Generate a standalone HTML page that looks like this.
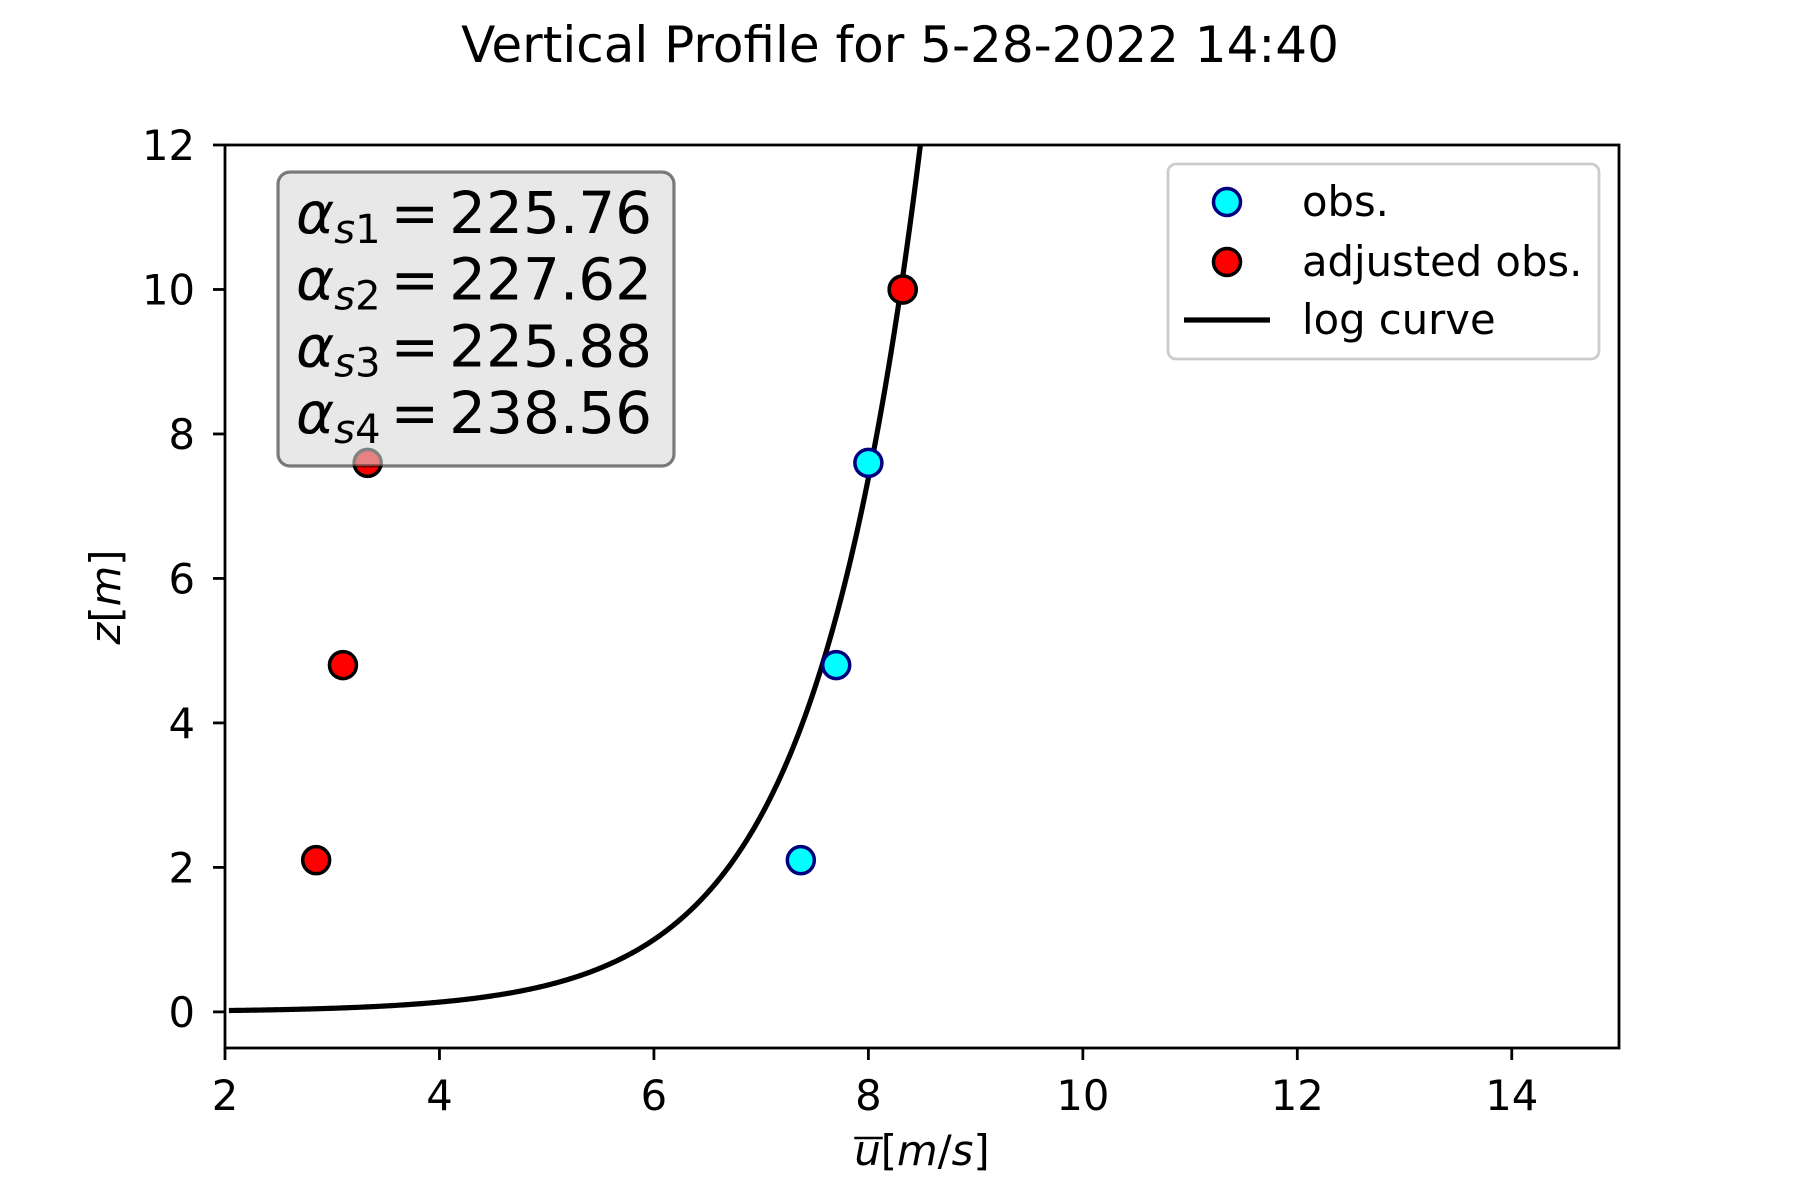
<!DOCTYPE html>
<html><head><meta charset="utf-8"><style>
html,body{margin:0;padding:0;background:#fff;}
svg{display:block;font-family:"DejaVu Sans","Liberation Sans",sans-serif;}
</style></head><body>
<svg id="chart" width="1800" height="1200" viewBox="0 0 1800 1200" xmlns="http://www.w3.org/2000/svg">
<rect width="1800" height="1200" fill="#fff"/>
<text x="900" y="62" font-size="50" text-anchor="middle">Vertical Profile for 5-28-2022 14:40</text>
<g id="plot"></g>
<text transform="translate(120,597) rotate(-90)" font-size="41.7" text-anchor="middle"><tspan font-style="italic">z</tspan>[<tspan font-style="italic">m</tspan>]</text>
<text id="xlab" x="922" y="1165" font-size="41.7" text-anchor="middle"><tspan font-style="italic">u</tspan>[<tspan font-style="italic">m</tspan>/<tspan font-style="italic">s</tspan>]</text>
<line id="xover" x1="0" x2="0" y1="1138" y2="1138" stroke="#000" stroke-width="2.5"/>
</svg>
<script>
const xTicks = [2, 4, 6, 8, 10, 12, 14];
const yTicks = [0, 2, 4, 6, 8, 10, 12];
const obsU = [7.37, 7.7, 8.0, 8.32];
const obsZ = [2.1, 4.8, 7.6, 10.0];
const adjU = [2.85, 3.1, 3.33, 8.32];
const adjZ = [2.1, 4.8, 7.6, 10.0];
const logA = 6.0;   // u at z = 1
const logB = 1.0;   // slope vs ln(z)
const alphaLabels = ["s1","s2","s3","s4"];
const alphaValues = ["225.76","227.62","225.88","238.56"];

const L=225,R=1619,T=145,B=1048;
const xMin=2,xMax=15,yMin=-0.5,yMax=12;
const xs=v=>L+(v-xMin)/(xMax-xMin)*(R-L);
const ys=v=>B-(v-yMin)/(yMax-yMin)*(B-T);
const NS="http://www.w3.org/2000/svg";
const g=document.getElementById('plot');
function mk(tag,attrs,parent){const e=document.createElementNS(NS,tag);for(const k in attrs)e.setAttribute(k,attrs[k]);(parent||g).appendChild(e);return e;}

const defs=mk('defs',{});
const cp=mk('clipPath',{id:'clip'},defs);
mk('rect',{x:L,y:T,width:R-L,height:B-T},cp);

xTicks.forEach(v=>{
  const t=mk('line',{x1:xs(v),x2:xs(v),y1:B,y2:B+12,stroke:'#000','stroke-width':2.8});
  
  
  const l=mk('text',{x:xs(v),y:1110,'font-size':41.7,'text-anchor':'middle'});
  
  
  l.textContent=v;
});
yTicks.forEach(v=>{
  const t=mk('line',{x1:L-12,x2:L,y1:ys(v),y2:ys(v),stroke:'#000','stroke-width':2.8});
  
  
  const l=mk('text',{x:L-30,y:ys(v)+15,'font-size':41.7,'text-anchor':'end'});
  
  
  l.textContent=v;
});

let d='';
for(let i=0;i<=400;i++){
  const z=Math.exp(Math.log(0.019)+(Math.log(13)-Math.log(0.019))*i/400);
  const u=logA+logB*Math.log(z);
  d+=(i?'L':'M')+xs(u).toFixed(2)+','+ys(z).toFixed(2);
}
const curve=mk('path',{d:d,fill:'none',stroke:'#000','stroke-width':5.2,'clip-path':'url(#clip)'});



obsU.forEach((u,i)=>{
  const c=mk('circle',{cx:xs(u),cy:ys(obsZ[i]),r:13.5,fill:'#00ffff',stroke:'#000080','stroke-width':3.5});
  
  
});
adjU.forEach((u,i)=>{
  const c=mk('circle',{cx:xs(u),cy:ys(adjZ[i]),r:13.5,fill:'#ff0000',stroke:'#000','stroke-width':3.5});
  
  
});

const fr=mk('rect',{x:L,y:T,width:R-L,height:B-T,fill:'none',stroke:'#000','stroke-width':2.8});



const bx=mk('rect',{x:278,y:172,width:396,height:294,rx:12,fill:'#d9d9d9','fill-opacity':0.6,stroke:'#000','stroke-opacity':0.5,'stroke-width':3.2});


alphaLabels.forEach((s,i)=>{
  const t=mk('text',{x:296,y:233+i*66.7,'font-size':58});
  
  
  t.innerHTML='<tspan font-style="italic">α</tspan><tspan font-size="40" dy="10" font-style="italic">'+s[0]+'</tspan><tspan font-size="40">'+s[1]+'</tspan><tspan dy="-10" dx="10">=</tspan><tspan dx="10">'+alphaValues[i]+'</tspan>';
});

const lg=mk('rect',{x:1168,y:164,width:431,height:195,rx:8,fill:'#fff','fill-opacity':0.8,stroke:'#ccc','stroke-width':2.8});


const e1=mk('circle',{cx:1227,cy:202,r:13.5,fill:'#00ffff',stroke:'#000080','stroke-width':3.5});


const e2=mk('circle',{cx:1227,cy:262,r:13.5,fill:'#ff0000',stroke:'#000','stroke-width':3.5});


const e3=mk('line',{x1:1184,x2:1270,y1:320,y2:320,stroke:'#000','stroke-width':5.2});


[['obs.',202],['adjusted obs.',262],['log curve',320]].forEach(([s,y])=>{
  const t=mk('text',{x:1302,y:y+14,'font-size':41.7});
  
  
  t.textContent=s;
});

// overline over u
try{
  const xl=document.getElementById('xlab');
  const a=xl.getStartPositionOfChar(0).x, b=xl.getEndPositionOfChar(0).x;
  const ov=document.getElementById('xover');
  ov.setAttribute('x1',a); ov.setAttribute('x2',b+2);
}catch(e){}
</script>
</body></html>
